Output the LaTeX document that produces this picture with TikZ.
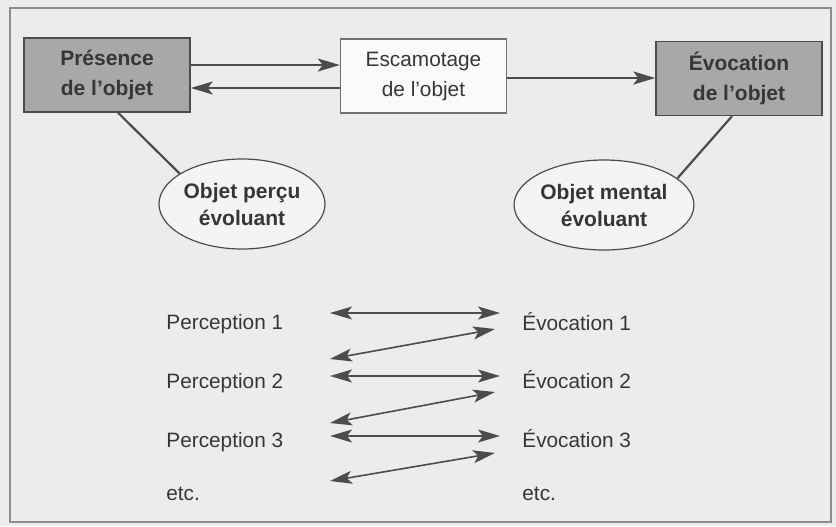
\documentclass[tikz,border=0pt]{standalone}
\usepackage{fontspec}
\setmainfont{Liberation Sans}
\usetikzlibrary{arrows.meta,shapes.geometric}
\definecolor{paper}{HTML}{ECECEC}
\definecolor{ink}{HTML}{363636}
\definecolor{boxgray}{HTML}{A8A8A8}
\definecolor{framegray}{HTML}{8C8C8C}
\definecolor{linegray}{HTML}{4C4C4C}

\begin{document}
\begin{tikzpicture}[x=0.5pt,y=-0.5pt,
  every node/.style={text=ink},
  darkbox/.style={draw=linegray, line width=0.7pt, fill=boxgray,
    minimum width=83pt, minimum height=37pt, inner sep=0pt, align=center,
    font=\fontsize{10.5}{15}\selectfont\bfseries},
  lightbox/.style={darkbox, draw=linegray!80, fill=white!75!paper,
    font=\fontsize{10.4}{15}\selectfont},
  bubble/.style={ellipse, draw=linegray, line width=0.6pt, fill=white!40!paper,
    minimum width=83pt, minimum height=45pt, inner sep=0pt, align=center,
    font=\fontsize{10.5}{13.5}\selectfont\bfseries},
  lab/.style={anchor=base west, inner sep=0pt, font=\fontsize{10.4}{12}\selectfont},
  tip/.tip={Stealth[length=11pt,width=6.5pt,inset=2.5pt]},
  arr/.style={draw=linegray, line width=1pt, -tip},
  darr/.style={draw=linegray, line width=0.8pt, tip-tip},
  link/.style={draw=linegray, line width=1.1pt}
]
% page and frame
\fill[paper] (0,0) rectangle (836,526);
\useasboundingbox (0,0) rectangle (836,526);
\draw[framegray, line width=0.6pt] (10,8) rectangle (831,522);

% upper row of boxes
\node[darkbox]  (pres) at (107,75)   {Présence\\de l'objet};
\node[lightbox] (esc)  at (423.5,76) {Escamotage\\de l'objet};
\node[darkbox]  (evoc) at (739,78.5) {Évocation\\de l'objet};

% evolving objects
\node[bubble] (ell1) at (242,204) {Objet perçu\\évoluant};
\node[bubble] (ell2) at (604,205) {Objet mental\\évoluant};

\draw[arr] ([yshift=5pt]pres.east) -- ([yshift=5pt]pres.east -| esc.west);
\draw[arr] ([yshift=-6.5pt]pres.east -| esc.west) -- ([yshift=-6.5pt]pres.east);
\draw[arr] ([yshift=-1pt]esc.east) -- ([yshift=-1pt]esc.east -| evoc.west);

\draw[link] ([xshift=5.5pt]pres.south) -- (ell1.154);
\draw[link] ([xshift=-3.5pt]evoc.south) -- (ell2.20);

% perception / evocation sequence
\node[lab] (p1) at (166,329) {Perception 1};
\node[lab] (p2) at (166,388) {Perception 2};
\node[lab] (p3) at (166,447) {Perception 3};
\node[lab] (p4) at (166,500) {etc.};
\node[lab] (e1) at (522,330) {Évocation 1};
\node[lab] (e2) at (522,388) {Évocation 2};
\node[lab] (e3) at (522,447) {Évocation 3};
\node[lab] (e4) at (522,500) {etc.};

\coordinate (ha1) at (330,313); \coordinate (hb1) at (500,313);
\coordinate (ha2) at (330,376); \coordinate (hb2) at (500,376);
\coordinate (ha3) at (330,436); \coordinate (hb3) at (500,436);
\coordinate (da1) at (330,359); \coordinate (db1) at (495,329);
\coordinate (da2) at (330,423); \coordinate (db2) at (495,392);
\coordinate (da3) at (330,481); \coordinate (db3) at (495,453);

\foreach \i in {1,2,3}{
  \draw[darr] (ha\i) -- (hb\i);
  \draw[darr] (da\i) -- (db\i);
}
\end{tikzpicture}
\end{document}
